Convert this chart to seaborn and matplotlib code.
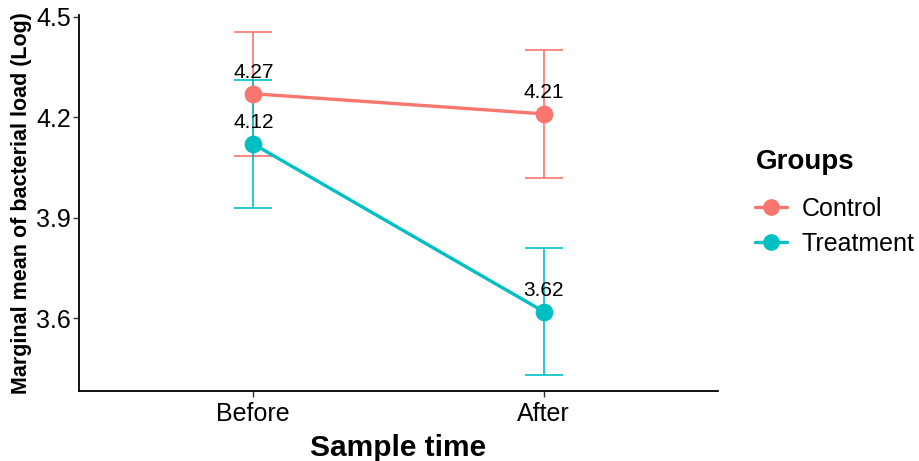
import matplotlib
matplotlib.use("Agg")
import matplotlib.pyplot as plt
import seaborn as sns
import pandas as pd
from matplotlib.lines import Line2D

# Data
times = ["Before", "After"]
groups = ["Control", "Treatment"]
control_mean = [4.27, 4.21]
control_lo = [4.085, 4.02]
control_hi = [4.455, 4.40]
treatment_mean = [4.12, 3.62]
treatment_lo = [3.93, 3.43]
treatment_hi = [4.31, 3.81]
y_ticks = [3.6, 3.9, 4.2, 4.5]

colors = {"Control": "#F8766D", "Treatment": "#00BFC4"}

df = pd.DataFrame({
    "time": times * 2,
    "group": ["Control"] * 2 + ["Treatment"] * 2,
    "mean": control_mean + treatment_mean,
    "lo": control_lo + treatment_lo,
    "hi": control_hi + treatment_hi,
})

sns.set_theme(style="white")
plt.rcParams["font.family"] = ["Liberation Sans", "DejaVu Sans"]
plt.rcParams["text.color"] = "black"
plt.rcParams["axes.labelcolor"] = "black"

fig = plt.figure(figsize=(9.2, 4.61), dpi=100)
ax = fig.add_axes([79 / 920, 70 / 461, (718 - 79) / 920, (446 - 70) / 461])

sns.pointplot(data=df, x="time", y="mean", hue="group", order=times,
              hue_order=groups, palette=colors, errorbar=None,
              markers="o", markersize=11, linewidth=2.4, ax=ax, legend=False)

pos = {t: i for i, t in enumerate(times)}
for g in groups:
    sub = df[df["group"] == g]
    xs = [pos[t] for t in sub["time"]]
    ax.errorbar(xs, sub["mean"],
                yerr=[sub["mean"] - sub["lo"], sub["hi"] - sub["mean"]],
                fmt="none", ecolor=colors[g], elinewidth=1.2, capsize=14,
                capthick=1.2, zorder=1)
    for x, m in zip(xs, sub["mean"]):
        ax.annotate(f"{m:.2f}", (x, m), xytext=(0, 11.5), textcoords="offset points",
                    ha="center", va="baseline", fontsize=15, color="black")

ax.set_xlim(-0.6, 1.6)
ax.set_ylim(3.383, 4.505)
ax.set_yticks(y_ticks)
ax.set_yticklabels([f"{v:.1f}" for v in y_ticks])
ax.tick_params(axis="both", which="major", labelsize=18, length=4, width=1,
               color="#333333", labelcolor="black", left=True, bottom=True)
ax.tick_params(axis="x", pad=4)
ax.tick_params(axis="y", pad=2)
for side in ["top", "right"]:
    ax.spines[side].set_visible(False)
for side in ["left", "bottom"]:
    ax.spines[side].set_color("black")
    ax.spines[side].set_linewidth(1.3)

ax.set_xlabel("Sample time", fontsize=21.5, fontweight="bold", labelpad=6)
ax.set_ylabel("Marginal mean of bacterial load (Log)", fontsize=15.5,
              fontweight="bold", labelpad=2.5)

handles = [Line2D([0], [0], color=colors[g], marker="o", markersize=11, linewidth=2.4)
           for g in groups]
leg = fig.legend(handles, groups, title="Groups", loc="upper left",
                 bbox_to_anchor=(738 / 920, 1 - 131 / 461), frameon=False, fontsize=18,
                 title_fontproperties={"weight": "bold", "size": 20},
                 handlelength=1.25, handletextpad=0.6, labelspacing=0.45,
                 borderpad=0.2)
leg._legend_box.align = "left"
leg._legend_box.sep = 16

fig.savefig("out.png", dpi=100)
